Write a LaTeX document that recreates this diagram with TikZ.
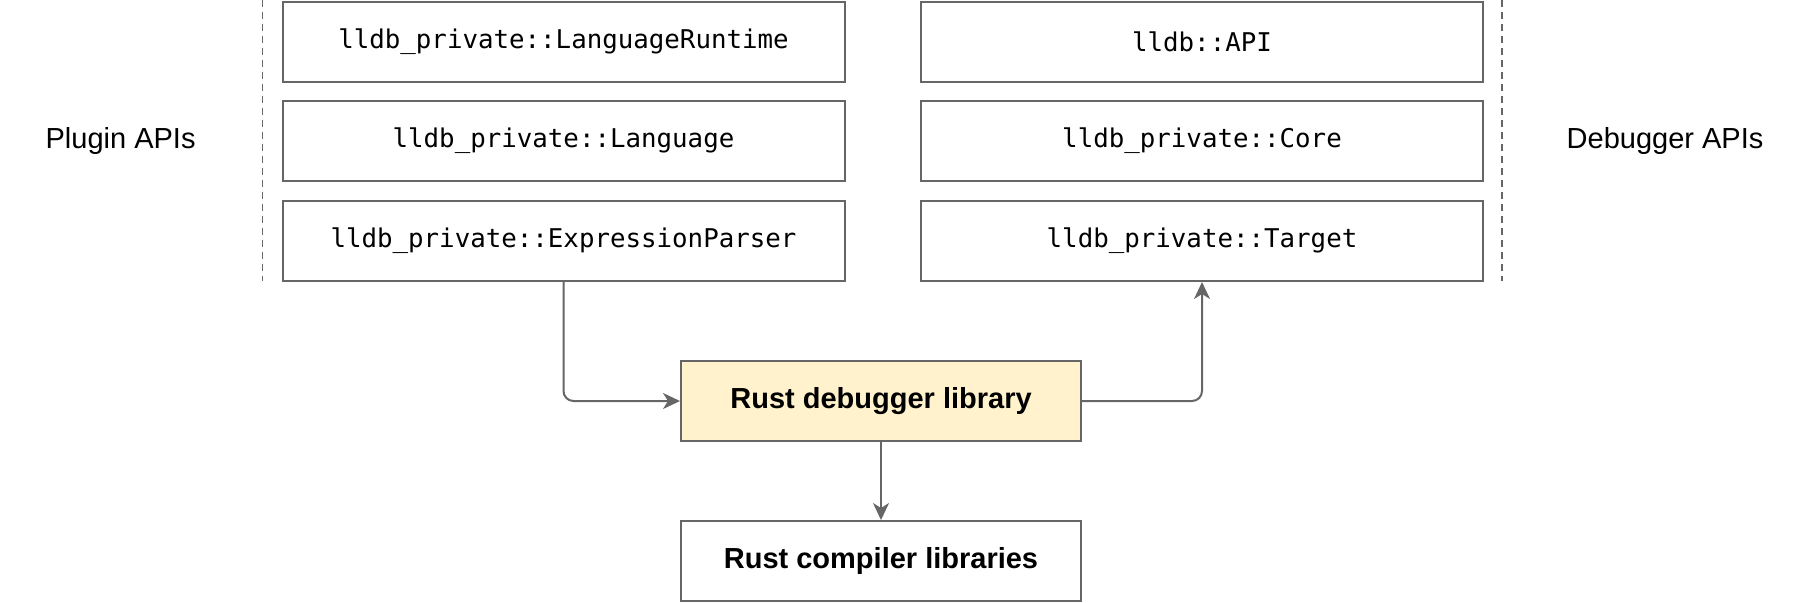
\documentclass[tikz,border=0pt]{standalone}
\usepackage{fontspec}
\setmainfont{Liberation Sans}
\setmonofont{DejaVu Sans Mono}
\usetikzlibrary{arrows.meta}
\definecolor{linegray}{HTML}{666666}
\definecolor{libyellow}{HTML}{FFF2CC}

\begin{document}
\begin{tikzpicture}
      [%%%%%%%%%%%%%%%%%%%%%%%%%%%%%%
      x=1pt,y=-1pt,
      apibox/.style={rectangle,draw=linegray,line width=1pt,minimum width=281pt,minimum height=40pt,inner sep=0pt,
        font=\fontsize{12.9}{15}\selectfont\ttfamily},
      libbox/.style={rectangle,draw=linegray,line width=1pt,minimum width=200pt,minimum height=40pt,inner sep=0pt,
        font=\fontsize{14.5}{17}\selectfont\bfseries},
      sidelabel/.style={font=\fontsize{14.5}{17}\selectfont},
      sep/.style={draw=linegray,line width=0.7pt,dash pattern=on 3.5pt off 2.5pt},
      link/.style={draw=linegray,line width=1pt,rounded corners=5pt,-{Stealth[length=8.5pt,width=8pt,inset=2.5pt]}},
      ]%%%%%%%%%%%%%%%%%%%%%%%%%%%%%%
      \useasboundingbox (0,0) rectangle (901,301);

      \node[apibox] (runtime) at (281.75,20.75){lldb\_private::LanguageRuntime};
      \node[apibox] (language) at (281.75,70.5){lldb\_private::Language};
      \node[apibox] (parser) at (281.75,120.5){lldb\_private::ExpressionParser};
      \node[apibox] (api) at (601,20.75){lldb::API};
      \node[apibox] (core) at (601,70.5){lldb\_private::Core};
      \node[apibox] (target) at (601,120.5){lldb\_private::Target};

      \node[libbox,fill=libyellow] (debuglib) at (440.5,200.5){Rust debugger library};
      \node[libbox] (compilerlib) at (440.5,280.5){Rust compiler libraries};

      \node[sidelabel] (plugin) at (60.3,70.5){Plugin APIs};
      \node[sidelabel] (debugger) at (832.5,70.5){Debugger APIs};

      \coordinate (septopl) at (131.25,0);
      \coordinate (sepbotl) at (131.25,140.5);
      \coordinate (septopr) at (751,0);
      \coordinate (sepbotr) at (751,140.5);
      \draw[sep] (septopl) -- (sepbotl);
      \draw[sep] (septopr) -- (sepbotr);

      \draw[link] (parser.south) |- (debuglib.west);
      \draw[link] (debuglib.east) -| (target.south);
      \draw[link] (debuglib.south) -- (compilerlib.north);
    \end{tikzpicture}
\end{document}
